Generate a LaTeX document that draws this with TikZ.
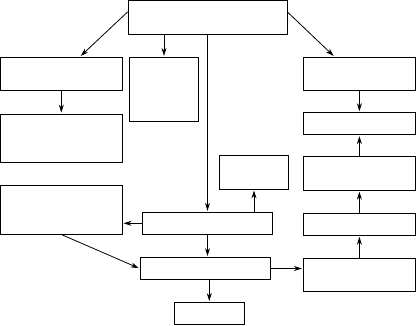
\documentclass[tikz,border=0pt]{standalone}
\usetikzlibrary{arrows.meta}
\begin{document}
\begin{tikzpicture}[
    x=1pt, y=-1pt,
    >={Stealth[length=8pt,width=5pt]},
    box/.style={draw, line width=0.9pt, inner sep=0pt},
    lbox/.style={box, minimum width=121.5pt},
    rbox/.style={box, minimum width=112pt},
    nbox/.style={box, minimum width=69.4pt},
    cbox/.style={box, minimum width=130.4pt},
    low/.style={minimum height=22pt},
    mid/.style={minimum height=33.4pt},
    high/.style={minimum height=48.5pt},
    arr/.style={->, line width=0.8pt, shorten >=1pt}
]
\useasboundingbox (0,0) rectangle (416,325);
\node[box, minimum width=159pt, mid] (top) at (207.5,17.4) {};
\node[lbox, mid] (l1) at (61.3,73.8) {};
\node[nbox, minimum height=64.4pt] (m1) at (164,89.5) {};
\node[rbox, mid] (r1) at (359.4,73.8) {};
\node[lbox, high] (l2) at (61.3,138.3) {};
\node[rbox, low] (r2) at (359.4,123.7) {};
\node[nbox, mid] (sm) at (254,172.3) {};
\node[rbox, mid] (r3) at (359.4,173.5) {};
\node[lbox, high] (l3) at (61.3,209.8) {};
\node[cbox, low] (c1) at (207.5,223.3) {};
\node[rbox, low] (r4) at (359.4,224.3) {};
\node[cbox, low] (c2) at (205.3,268.5) {};
\node[rbox, mid] (r5) at (359.4,275.2) {};
\node[nbox, low] (bot) at (209.3,313.5) {};

% from the top box
\draw[arr] ([yshift=5.4pt]top.west) -- ([xshift=18.7pt]l1.north);
\draw[arr] (m1.north |- top.south) -- (m1.north);
\draw[arr] ([yshift=5.4pt]top.east) -- ([xshift=-25pt]r1.north);
\draw[arr] (top) -- (c1);
% left column
\draw[arr] (l1) -- (l2);
\draw[arr] (l3.south) -- (c2.west);
% centre column
\draw[arr] (c1.west) -- (c1.west -| l3.east);
\draw[arr] (sm.south |- c1.north) -- (sm.south);
\draw[arr] (c1.south) -- (c1.south |- c2.north);
\draw[arr] (c2.south -| bot.north) -- (bot.north);
\draw[arr] (c2.east) -- (c2.east -| r5.west);
% right column
\draw[arr] (r1) -- (r2);
\draw[arr] (r3) -- (r2);
\draw[arr] (r4) -- (r3);
\draw[arr] (r5) -- (r4);
\end{tikzpicture}
\end{document}
